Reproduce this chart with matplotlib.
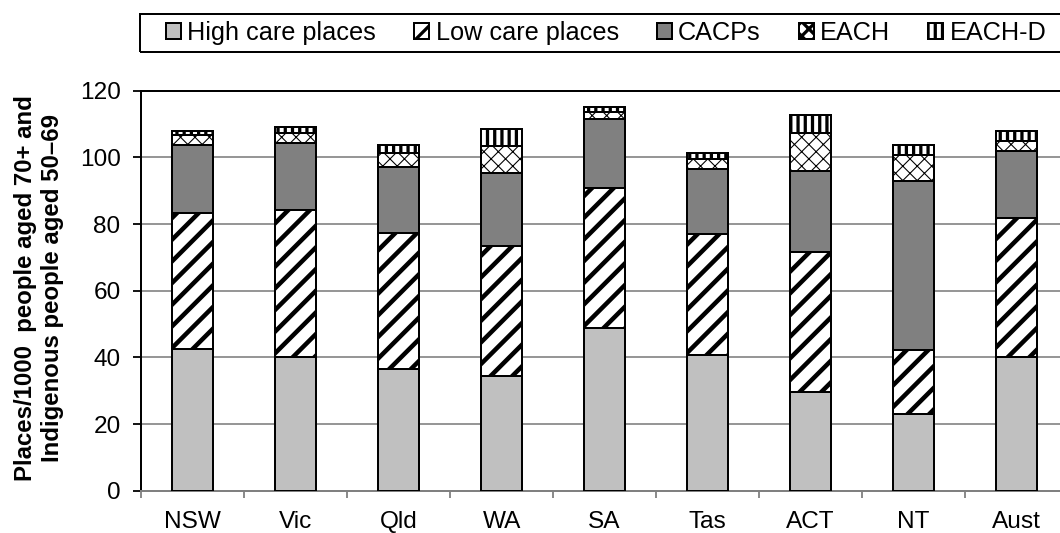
import numpy as np
import matplotlib
matplotlib.use('Agg')
import matplotlib.pyplot as plt
from matplotlib.patches import Rectangle

# places per 1000 people
states = ['NSW', 'Vic', 'Qld', 'WA', 'SA', 'Tas', 'ACT', 'NT', 'Aust']
high_care = [42.6, 40.2, 36.6, 34.3, 48.7, 40.8, 29.5, 23.0, 40.2]
low_care = [40.8, 44.0, 40.8, 39.0, 42.1, 36.1, 42.1, 19.2, 41.5]
cacps = [20.2, 20.0, 19.6, 21.9, 20.6, 19.6, 24.4, 50.8, 20.3]
each = [3.1, 3.0, 4.4, 8.3, 2.3, 3.1, 11.4, 7.8, 3.0]
each_d = [1.3, 2.0, 2.4, 5.0, 1.5, 1.8, 5.4, 2.9, 2.9]
series_names = ['High care places', 'Low care places', 'CACPs', 'EACH', 'EACH-D']
yticks = [0, 20, 40, 60, 80, 100, 120]

plt.rcParams['font.family'] = ['Liberation Sans', 'DejaVu Sans']

DPI = 130
fig = plt.figure(figsize=(1060 / DPI, 533 / DPI), dpi=DPI)
# plot area runs a little past the right edge, like the original
ax = fig.add_axes([141.2 / 1060, 42.3 / 533, 926.8 / 1060, 400 / 533])

x = np.arange(len(states))
w = 0.4

# face, hatch, hatch line width (pt)
styles = [('#c0c0c0', None, 1.0),
          ('white', '//', 2.5),
          ('#808080', None, 1.0),
          ('white', 'xxx', 0.6),
          ('white', '|||', 1.8)]

bottom = np.zeros(len(states))
for vals, name, (fc, hatch, hlw) in zip([high_care, low_care, cacps, each, each_d],
                                       series_names, styles):
    plt.rcParams['hatch.linewidth'] = hlw
    bars = ax.bar(x, vals, w, bottom=bottom, color=fc, edgecolor='black',
                  linewidth=1.1, hatch=hatch, label=name, zorder=3)
    for b in bars:
        if hasattr(b, 'set_hatch_linewidth'):
            b.set_hatch_linewidth(hlw)
    bottom = bottom + np.array(vals)

ax.set_xlim(-0.5, len(states) - 0.5)
ax.set_ylim(0, 120)
ax.set_yticks(yticks)
ax.set_xticks(x)
ax.set_xticklabels(states)
ax.set_xticks(np.arange(len(states) + 1) - 0.5, minor=True)
ax.tick_params(axis='x', which='major', length=0, pad=11, labelsize=13.5)
ax.tick_params(axis='x', which='minor', length=4, width=1, color='#808080')
ax.tick_params(axis='y', length=4.4, width=1, pad=7, labelsize=13.5)

ax.yaxis.grid(True, color='#808080', linewidth=0.9, zorder=0)
ax.set_axisbelow(True)
for s in ['left', 'top', 'right']:
    ax.spines[s].set_color('black')
    ax.spines[s].set_linewidth(1.1)
ax.spines['bottom'].set_color('#808080')
ax.spines['bottom'].set_linewidth(1.1)

fig.text(39 / 1060, 0.46,
         'Places/1000  people aged 70+ and\nIndigenous people aged 50\u201369',
         rotation=90, ha='center', va='center', multialignment='center',
         fontsize=13.3, fontweight='bold', linespacing=1.2)

# legend box across the top
fig.patches.append(Rectangle((140 / 1060, (533 - 52) / 533), 940 / 1060, 38 / 533,
                             transform=fig.transFigure, fill=False,
                             edgecolor='black', linewidth=1.1))
fig.legend(loc='center left', bbox_to_anchor=(166 / 1060, (533 - 33) / 533),
           ncol=5, frameon=False, fontsize=14, handlelength=0.6,
           handleheight=0.55, handletextpad=0.25, columnspacing=1.5,
           borderaxespad=0, borderpad=0)

plt.savefig('out.png', dpi=DPI)
